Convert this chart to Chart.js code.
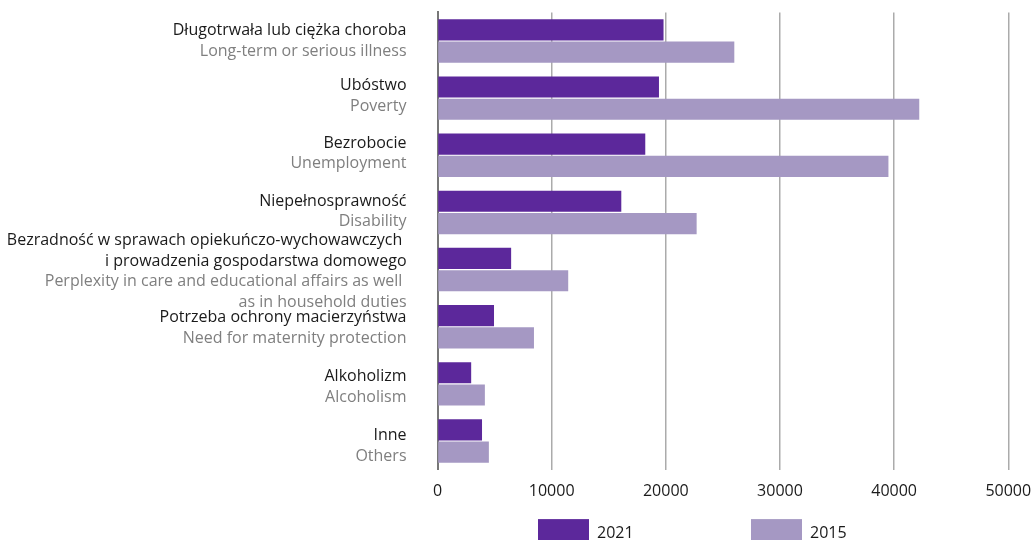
<!DOCTYPE html>
<html>
<head>
<meta charset="utf-8">
<script src="https://cdn.jsdelivr.net/npm/chart.js@4.4.1/dist/chart.umd.min.js"></script>
<style>
  html, body { margin: 0; padding: 0; background: #ffffff; }
  #wrap { position: relative; width: 1031px; height: 540px; }
</style>
</head>
<body>
<div id="wrap"><canvas id="c" width="1031" height="540"></canvas></div>
<script>
// ---- Data ----
const categoriesPL = [
  ["Długotrwała lub ciężka choroba"],
  ["Ubóstwo"],
  ["Bezrobocie"],
  ["Niepełnosprawność"],
  ["Bezradność w sprawach opiekuńczo-wychowawczych ", "i prowadzenia gospodarstwa domowego"],
  ["Potrzeba ochrony macierzyństwa"],
  ["Alkoholizm"],
  ["Inne"]
];
const categoriesEN = [
  ["Long-term or serious illness"],
  ["Poverty"],
  ["Unemployment"],
  ["Disability"],
  ["Perplexity in care and educational affairs as well ", "as in household duties"],
  ["Need for maternity protection"],
  ["Alcoholism"],
  ["Others"]
];
const values2021 = [19800, 19400, 18200, 16100, 6450, 4950, 2950, 3900];
const values2015 = [26000, 42200, 39500, 22700, 11450, 8450, 4150, 4500];
const seriesLabels = ["2021", "2015"];
const xTicks = [0, 10000, 20000, 30000, 40000, 50000];

// ---- Style ----
const FONT = "'Open Sans', 'DejaVu Sans', sans-serif";
const COLOR_2021 = "#5c289b";
const COLOR_2015 = "#a598c3";
const labelNudge = [0, -2, -2, -1, 2, 1, 3, 5];

const labelPlugin = {
  id: 'twoColorLabels',
  afterDraw(chart) {
    const ctx = chart.ctx;
    const y = chart.scales.y;
    const xRight = chart.chartArea.left - 31;
    const lh = 20.6;
    ctx.save();
    ctx.font = "16px " + FONT;
    ctx.textAlign = 'right';
    ctx.textBaseline = 'middle';
    categoriesPL.forEach((pl, i) => {
      const en = categoriesEN[i];
      const lines = pl.map(t => ({t, c: '#1a1a1a'})).concat(en.map(t => ({t, c: '#7f7f7f'})));
      const cy = y.getPixelForValue(i) + labelNudge[i];
      const start = cy - (lines.length - 1) / 2 * lh;
      lines.forEach((ln, k) => {
        ctx.fillStyle = ln.c;
        ctx.fillText(ln.t, xRight, start + k * lh);
      });
    });
    ctx.restore();
  }
};

const legendPlugin = {
  id: 'customLegend',
  afterDraw(chart) {
    const ctx = chart.ctx;
    const area = chart.chartArea;
    const boxW = 51, boxH = 23;
    const top = area.bottom + 49.5;
    const starts = [area.left + 100.5, area.left + 313.5];
    ctx.save();
    ctx.font = "16px " + FONT;
    ctx.textBaseline = 'middle';
    ctx.textAlign = 'left';
    chart.data.datasets.forEach((ds, i) => {
      ctx.fillStyle = ds.backgroundColor;
      ctx.fillRect(starts[i], top, boxW, boxH);
      ctx.fillStyle = '#1a1a1a';
      ctx.fillText(ds.label, starts[i] + boxW + 8, top + 14);
    });
    ctx.restore();
  }
};

new Chart(document.getElementById('c'), {
  type: 'bar',
  data: {
    labels: categoriesPL.map(a => a.join(' ')),
    datasets: [
      { label: seriesLabels[0], data: values2021, backgroundColor: COLOR_2021,
        categoryPercentage: 0.78, barPercentage: 0.95 },
      { label: seriesLabels[1], data: values2015, backgroundColor: COLOR_2015,
        categoryPercentage: 0.78, barPercentage: 0.95 }
    ]
  },
  options: {
    indexAxis: 'y',
    responsive: false,
    animation: false,
    devicePixelRatio: 1,
    layout: { padding: { top: 12.4, right: 22.7, bottom: 38.4, left: 0 } },
    plugins: {
      legend: { display: false },
      tooltip: { enabled: false },
      title: { display: false }
    },
    scales: {
      x: {
        min: 0, max: 50000,
        afterBuildTicks: s => { s.ticks = xTicks.map(v => ({ value: v })); },
        afterFit: s => { s.height = 32; s.paddingLeft = 0; s.paddingRight = 0; },
        ticks: {
          color: '#1a1a1a',
          font: { family: FONT, size: 16 },
          padding: 12,
          maxRotation: 0,
          callback: v => String(v)
        },
        grid: {
          drawTicks: false,
          lineWidth: 1.5,
          color: c => (c.tick && c.tick.value === 0) ? '#777777' : '#ababab'
        },
        border: { display: false }
      },
      y: {
        ticks: { display: false },
        grid: { display: false },
        border: { display: true, color: '#777777', width: 2 },
        afterFit: s => { s.width = 437.5; }
      }
    }
  },
  plugins: [labelPlugin, legendPlugin]
});
</script>
</body>
</html>
